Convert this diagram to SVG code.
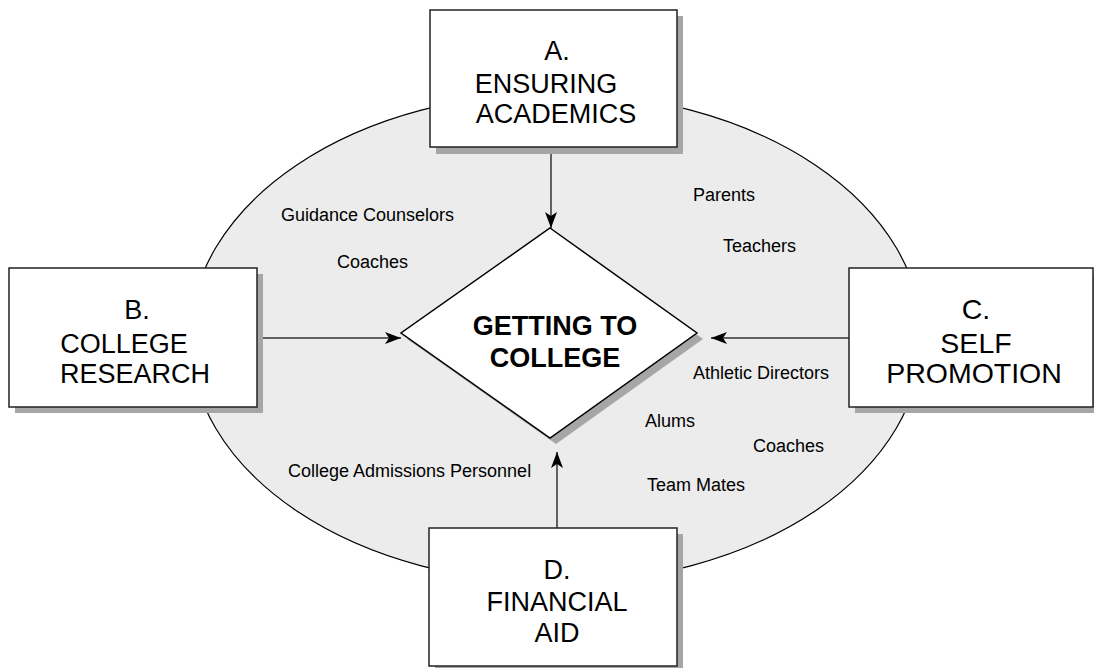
<svg xmlns="http://www.w3.org/2000/svg" width="1094" height="668" viewBox="0 0 1094 668">
<style>
.box{fill:#ffffff;stroke:#222;stroke-width:1.5}
.shadow{fill:#a6a6a6;stroke:none}
.big{font-family:"Liberation Sans",Arial,sans-serif;font-size:27px;fill:#000;text-anchor:middle}
.bold{font-family:"Liberation Sans",Arial,sans-serif;font-size:27px;font-weight:bold;fill:#000;text-anchor:middle}
.lbl{font-family:"Liberation Sans",Arial,sans-serif;font-size:18px;fill:#000}
.conn{stroke:#333;stroke-width:1.5;fill:none}
</style>
<defs>
<marker id="arr" markerUnits="userSpaceOnUse" markerWidth="18" markerHeight="14" refX="16" refY="6" orient="auto">
<path d="M0,0 L16,6 L0,12 L4,6 z" fill="#000"/>
</marker>
</defs>
<rect width="1094" height="668" fill="#ffffff"/>
<g id="background">
<ellipse cx="556" cy="338" rx="366" ry="245" fill="#ececec" stroke="#000" stroke-width="1.2"/>
</g>
<g id="labels">
<text class="lbl" x="281" y="221">Guidance Counselors</text>
<text class="lbl" x="337" y="268">Coaches</text>
<text class="lbl" x="693" y="201">Parents</text>
<text class="lbl" x="723" y="252">Teachers</text>
<text class="lbl" x="693" y="379">Athletic Directors</text>
<text class="lbl" x="645" y="427">Alums</text>
<text class="lbl" x="753" y="452">Coaches</text>
<text class="lbl" x="647" y="491">Team Mates</text>
<text class="lbl" x="288" y="477">College Admissions Personnel</text>
</g>
<g id="connectors">
<line class="conn" x1="551" y1="147" x2="551" y2="228" marker-end="url(#arr)"/>
<line class="conn" x1="257" y1="338" x2="401" y2="338" marker-end="url(#arr)"/>
<line class="conn" x1="849" y1="338" x2="711" y2="338" marker-end="url(#arr)"/>
<line class="conn" x1="557" y1="528" x2="557" y2="452" marker-end="url(#arr)"/>
</g>
<g id="center">
<polygon class="shadow" points="556,234 703,339 556,444 407,339"/>
<polygon points="550,228 697,333 550,438 401,333" fill="#fff" stroke="#000" stroke-width="1.5"/>
<text class="bold" x="555" y="335">GETTING TO</text>
<text class="bold" x="555" y="367">COLLEGE</text>
</g>
<g id="nodeA">
<rect class="shadow" x="436" y="16" width="247" height="138"/>
<rect class="box" x="430" y="10" width="247" height="137"/>
<text class="big" x="557" y="60">A.</text>
<text class="big" x="546" y="93">ENSURING</text>
<text class="big" x="556" y="123">ACADEMICS</text>
</g>
<g id="nodeB">
<rect class="shadow" x="15" y="274" width="248" height="139"/>
<rect class="box" x="9" y="268" width="248" height="139"/>
<text class="big" x="137" y="319">B.</text>
<text class="big" x="124" y="353">COLLEGE</text>
<text class="big" x="135" y="383">RESEARCH</text>
</g>
<g id="nodeC">
<rect class="shadow" x="855" y="274" width="245" height="139"/>
<rect class="box" x="849" y="268" width="244" height="139"/>
<text class="big" x="976" y="319" style="font-size:28.5px">C.</text>
<text class="big" x="976" y="353" style="font-size:28.5px">SELF</text>
<text class="big" x="974" y="383" style="font-size:28.5px">PROMOTION</text>
</g>
<g id="nodeD">
<rect class="shadow" x="435" y="534" width="248" height="139"/>
<rect class="box" x="429" y="528" width="248" height="138"/>
<text class="big" x="557" y="579">D.</text>
<text class="big" x="557" y="611">FINANCIAL</text>
<text class="big" x="557" y="642">AID</text>
</g>
</svg>
